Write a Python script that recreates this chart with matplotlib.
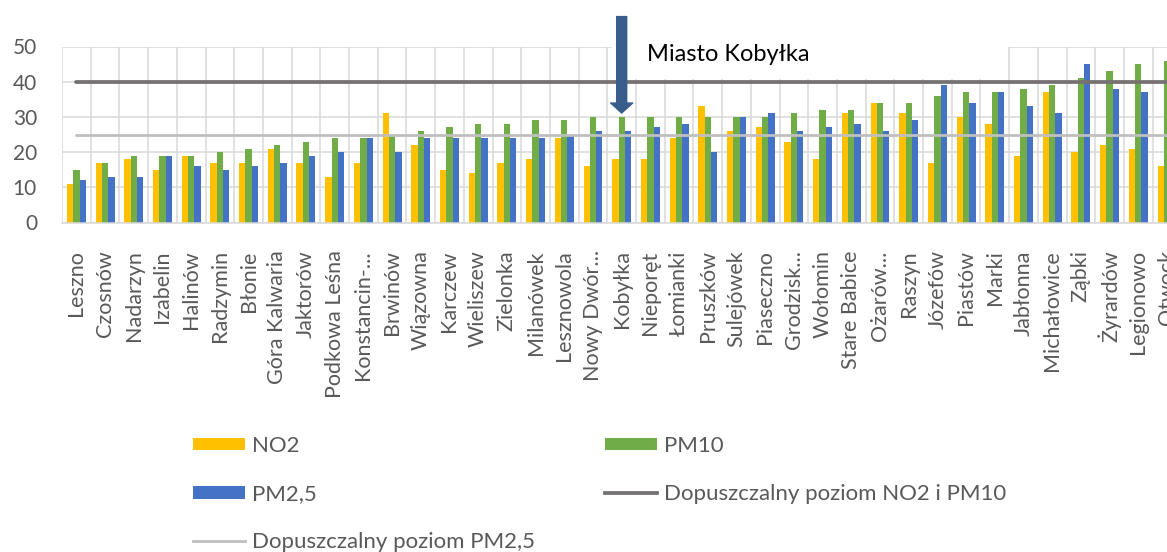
"""Poziomy zanieczyszczen powietrza w gminach - wykres slupkowy."""
import matplotlib
matplotlib.use('Agg')
from matplotlib import pyplot as plt
from matplotlib.patches import Patch, Rectangle
from matplotlib.lines import Line2D
import numpy as np

plt.rcParams['font.family'] = ['Lato', 'DejaVu Sans']

cities = ['Leszno', 'Czosnów', 'Nadarzyn', 'Izabelin', 'Halinów', 'Radzymin', 'Błonie',
          'Góra Kalwaria', 'Jaktorów', 'Podkowa Leśna', 'Konstancin-...', 'Brwinów',
          'Wiązowna', 'Karczew', 'Wieliszew', 'Zielonka', 'Milanówek', 'Lesznowola',
          'Nowy Dwór...', 'Kobyłka', 'Nieporęt', 'Łomianki', 'Pruszków', 'Sulejówek',
          'Piaseczno', 'Grodzisk...', 'Wołomin', 'Stare Babice', 'Ożarów...', 'Raszyn',
          'Józefów', 'Piastów', 'Marki', 'Jabłonna', 'Michałowice', 'Ząbki', 'Żyrardów',
          'Legionowo', 'Otwock']
no2 = [11, 17, 18, 15, 19, 17, 17, 21, 17, 13, 17, 31, 22, 15, 14, 17, 18, 24, 16, 18,
       18, 24, 33, 26, 27, 23, 18, 31, 34, 31, 17, 30, 28, 19, 37, 20, 22, 21, 16]
pm10 = [15, 17, 19, 19, 19, 20, 21, 22, 23, 24, 24, 24.5, 26, 27, 28, 28, 29, 29, 30, 30,
        30, 30, 30, 30, 30, 31, 32, 32, 34, 34, 36, 37, 37, 38, 39, 41, 43, 45, 46]
pm25 = [12, 13, 13, 19, 16, 15, 16, 17, 19, 20, 24, 20, 24, 24, 24, 24, 24, 25, 26, 26,
        27, 28, 20, 30, 31, 26, 27, 28, 26, 29, 39, 34, 37, 33, 31, 45, 38, 37, 38]
limit_no2_pm10 = 40
limit_pm25 = 25
highlight = 'Kobyłka'

c_no2, c_pm10, c_pm25 = '#FFC000', '#70AD47', '#4472C4'
c_dark, c_light = '#767171', '#BFBFBF'
grey_txt = '#595959'
grid_c = '#D9D9D9'

W, H = 1167, 552
fig = plt.figure(figsize=(W / 100, H / 100), dpi=100)
ax = fig.add_axes([62 / W, 1 - 222.5 / H, (W - 62) / W, 176 / H])

x = np.arange(len(cities))
bw = 0.22
ax.bar(x - bw, no2, bw, color=c_no2, zorder=2)
ax.bar(x, pm10, bw, color=c_pm10, zorder=2)
ax.bar(x + bw, pm25, bw, color=c_pm25, zorder=2)
ax.plot(x, [limit_no2_pm10] * len(x), color=c_dark, lw=2.7, solid_capstyle='round', zorder=3)
ax.plot(x, [limit_pm25] * len(x), color=c_light, lw=2.0, solid_capstyle='round', zorder=3)

ax.set_yticks(np.arange(0, 51, 10))
ax.set_xticks(x)
ax.set_xticklabels(cities, rotation=90, fontsize=15.5, color=grey_txt)
ax.set_xticks(np.arange(-0.5, len(cities), 1), minor=True)
# chart is cut on the right, in the middle of the last group
ax.set_ylim(0, 50)
ax.set_xlim(-0.5, 38.0)
for lab in ax.get_yticklabels():
    lab.set_fontsize(15)
    lab.set_color(grey_txt)
ax.tick_params(axis='x', which='both', length=0, pad=20)
ax.tick_params(axis='y', length=0, pad=18)
ax.set_axisbelow(True)
ax.grid(axis='y', which='major', color=grid_c, lw=1.1)
ax.grid(axis='x', which='minor', color=grid_c, lw=1.1)
for s in ['top', 'left', 'right']:
    ax.spines[s].set_visible(False)
ax.spines['bottom'].set_color(grid_c)
ax.spines['bottom'].set_linewidth(1.1)

# white text box with annotation
ax.add_patch(Rectangle((0.4977, 0.815), 0.3585, 0.5, transform=ax.transAxes, clip_on=False,
                       facecolor='white', edgecolor='none', zorder=4))
kob = cities.index(highlight)
ax.annotate('', xy=(kob, 31.1), xytext=(kob, 58.5), annotation_clip=False, zorder=5,
            arrowprops=dict(arrowstyle='simple,head_length=1,head_width=2.2,tail_width=1',
                            mutation_scale=7.2, color='#385D8A', shrinkA=0, shrinkB=0))
ax.text(0.529, 0.952, 'Miasto ' + highlight, transform=ax.transAxes, ha='left', va='center',
        fontsize=17, color='black', zorder=6)

handles = [Patch(facecolor=c_no2), Patch(facecolor=c_pm25), Line2D([], [], color=c_light, lw=2.0),
           Patch(facecolor=c_pm10), Line2D([], [], color=c_dark, lw=2.7)]
labels = ['NO2', 'PM2,5', 'Dopuszczalny poziom PM2,5', 'PM10', 'Dopuszczalny poziom NO2 i PM10']
leg = fig.legend(handles, labels, ncol=2, loc='upper left', bbox_to_anchor=(193 / W, 1 - 436 / H),
                 frameon=False, fontsize=16, borderpad=0, borderaxespad=0, handlelength=2.34,
                 handleheight=0.5, handletextpad=0.32, labelspacing=1.27, columnspacing=3.16)
for t in leg.get_texts():
    t.set_color(grey_txt)

fig.savefig('out.png', dpi=100)
